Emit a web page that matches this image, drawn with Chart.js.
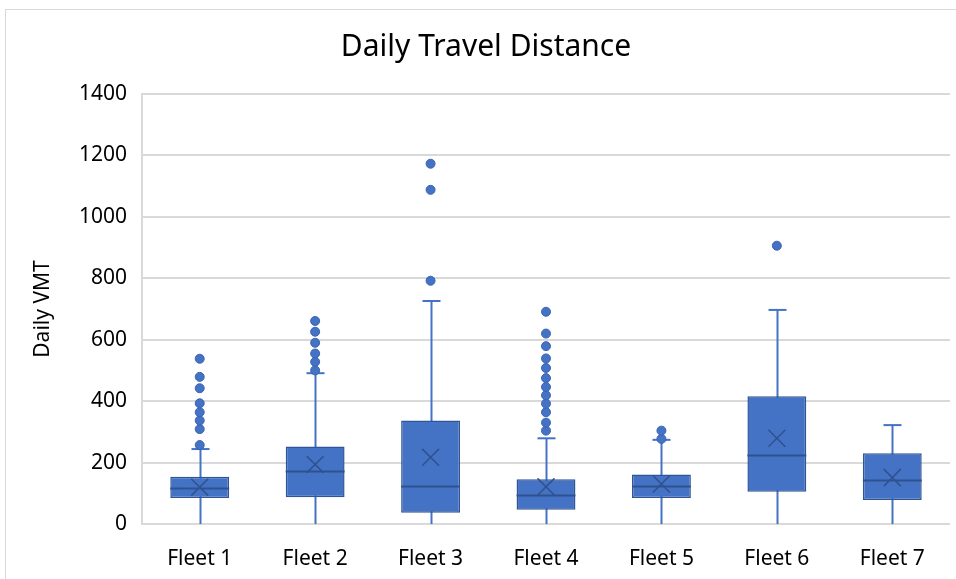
<!DOCTYPE html>
<html>
<head>
<meta charset="utf-8">
<script src="https://cdn.jsdelivr.net/npm/chart.js@4"></script>
<style>
  html, body { margin: 0; padding: 0; background: #fff; overflow: hidden; }
  #wrap { position: relative; width: 956px; height: 579px; overflow: hidden; }
  #frame { position: absolute; left: 5px; top: 9px; width: 960px; height: 600px; border: 1px solid #d9d9d9; }
  canvas { position: absolute; left: 0; top: 0; }
</style>
</head>
<body>
<div id="wrap">
  <div id="frame"></div>
  <canvas id="boxChart" width="956" height="579"></canvas>
</div>
<script>
// Box plot data
const fleets = ['Fleet 1', 'Fleet 2', 'Fleet 3', 'Fleet 4', 'Fleet 5', 'Fleet 6', 'Fleet 7'];
const mins = [0, 0, 0, 0, 0, 0, 0];
const q1s = [85, 87, 37, 46, 85, 105, 78];
const medians = [118, 172, 123, 94, 124, 226, 143];
const q3s = [154, 252, 337, 146, 161, 416, 230];
const maxs = [244, 491, 726, 279, 274, 697, 322];
const means = [120, 194, 217, 121, 130, 279, 151];
const outliers = [
    [257, 309, 337, 364, 393, 442, 479, 538],
    [500, 528, 555, 590, 626, 661],
    [792, 1088, 1173],
    [304, 330, 364, 392, 419, 446, 475, 508, 539, 579, 620, 691],
    [277, 304],
    [906],
    []
];
const yTicks = [0, 200, 400, 600, 800, 1000, 1200, 1400];

const boxBlue = '#4472C4';
const darkBlue = '#2F528F';

// outlier points as {x, y} pairs on the category axis
const outlierPoints = [];
outliers.forEach(function(list, i) {
    list.forEach(function(v) {
        outlierPoints.push({ x: fleets[i], y: v });
    });
});

// whiskers and medians drawn with the chart's own scales
const boxExtras = {
    id: 'boxExtras',
    beforeDatasetsDraw: function(chart) {
        const ctx = chart.ctx;
        const x = chart.scales.x;
        const y = chart.scales.y;
        ctx.save();
        ctx.strokeStyle = boxBlue;
        ctx.lineWidth = 2;
        fleets.forEach(function(f, i) {
            const cx = Math.round(x.getPixelForValue(i)) + 0.5;
            ctx.beginPath();
            ctx.moveTo(cx, y.getPixelForValue(maxs[i]));
            ctx.lineTo(cx, y.getPixelForValue(mins[i]));
            ctx.stroke();
            ctx.beginPath();
            const ty = y.getPixelForValue(maxs[i]);
            ctx.moveTo(cx - 9, ty);
            ctx.lineTo(cx + 9, ty);
            ctx.stroke();
        });
        ctx.restore();
    },
    afterDatasetsDraw: function(chart) {
        const ctx = chart.ctx;
        const y = chart.scales.y;
        const meta = chart.getDatasetMeta(0);
        ctx.save();
        ctx.strokeStyle = darkBlue;
        ctx.lineWidth = 2;
        meta.data.forEach(function(bar, i) {
            const my = Math.round(y.getPixelForValue(medians[i])) + 0.5;
            ctx.beginPath();
            ctx.moveTo(bar.x - bar.width / 2, my);
            ctx.lineTo(bar.x + bar.width / 2, my);
            ctx.stroke();
        });
        ctx.restore();
    }
};

document.addEventListener('DOMContentLoaded', function() {
    const ctx = document.getElementById('boxChart');
    new Chart(ctx, {
        type: 'bar',
        data: {
            labels: fleets,
            datasets: [{
                label: 'Box',
                data: q1s.map(function(q, i) { return [q, q3s[i]]; }),
                backgroundColor: boxBlue,
                borderColor: '#2F5597',
                borderWidth: 1.5,
                borderSkipped: false,
                barPercentage: 0.51,
                categoryPercentage: 1.0,
                order: 3
            }, {
                type: 'line',
                label: 'Mean',
                data: means,
                showLine: false,
                pointStyle: 'crossRot',
                pointRadius: 12,
                borderColor: darkBlue,
                borderWidth: 1.5,
                order: 1
            }, {
                type: 'line',
                label: 'Outliers',
                data: outlierPoints,
                showLine: false,
                pointStyle: 'circle',
                pointRadius: 4.5,
                backgroundColor: boxBlue,
                borderColor: '#3A64B0',
                borderWidth: 1,
                order: 0
            }]
        },
        options: {
            responsive: false,
            animation: false,
            layout: {
                autoPadding: false,
                padding: { left: 22, right: 6, top: 0, bottom: 8 }
            },
            plugins: {
                legend: { display: false },
                tooltip: { enabled: false },
                title: {
                    display: true,
                    text: 'Daily Travel Distance',
                    color: '#000',
                    font: { family: 'Noto Sans', size: 30, weight: 'normal' },
                    padding: { top: 29, bottom: 29 }
                }
            },
            scales: {
                x: {
                    afterFit: function(scale) {
                        scale.paddingLeft = 0;
                        scale.paddingRight = 0;
                        scale.height = 47;
                    },
                    grid: { display: false, drawTicks: false },
                    border: { display: false },
                    ticks: {
                        color: '#000',
                        padding: 22,
                        font: { family: 'Noto Sans', size: 21 }
                    }
                },
                y: {
                    min: 0,
                    max: 1400,
                    afterBuildTicks: function(scale) {
                        scale.ticks = yTicks.map(function(v) { return { value: v }; });
                    },
                    afterFit: function(scale) {
                        scale.width = 120;
                    },
                    grid: { color: '#d9d9d9', lineWidth: 2, drawTicks: false },
                    border: { display: true, color: '#d9d9d9', width: 2 },
                    ticks: {
                        color: '#000',
                        padding: 15,
                        font: { family: 'Noto Sans', size: 21 },
                        callback: function(value) {
                            return String(value);
                        }
                    },
                    title: {
                        display: true,
                        text: 'Daily VMT',
                        color: '#000',
                        font: { family: 'Noto Sans', size: 21 },
                        padding: { top: 8, bottom: 0 }
                    }
                }
            }
        },
        plugins: [boxExtras]
    });
});
</script>
</body>
</html>
